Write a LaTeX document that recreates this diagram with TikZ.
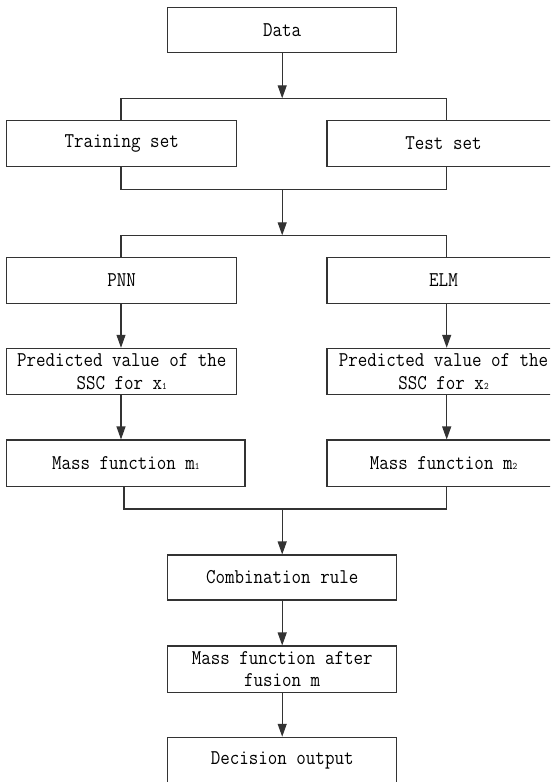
\documentclass[tikz,border=0pt]{standalone}
\usepackage{fontspec}
\setmonofont{Latin Modern Mono}[FakeStretch=0.88]
\usetikzlibrary{arrows.meta}
\newcommand\smallidx[1]{{\fontsize{10}{10}\selectfont #1}}
\begin{document}
\begin{tikzpicture}[x=1pt,y=-1pt,
  box/.style={draw=black!80, line width=1.1pt, rectangle, inner sep=0pt, align=center,
    font=\ttfamily\fontsize{21}{22.7}\selectfont},
  conn/.style={draw=black!80, line width=1.1pt},
  arr/.style={conn, -{Triangle[length=13pt,width=9pt]}}]
\useasboundingbox (0,0) rectangle (550,782);
\clip (0,0) rectangle (550,782);
% nodes
\node[box, minimum width=229pt, minimum height=45.4pt] (data) at (282.2,30) {Data};
\node[box, minimum width=230pt, minimum height=45.6pt] (train) at (121.7,143.5) {Training set};
\node[box, minimum width=233pt, minimum height=45.6pt] (test) at (443.5,143.5) {Test set};
\node[box, minimum width=230pt, minimum height=45.6pt] (pnn) at (121.7,280.5) {PNN};
\node[box, minimum width=233pt, minimum height=45.6pt] (elm) at (443.5,280.5) {ELM};
\node[box, minimum width=230pt, minimum height=46.4pt] (pred1) at (121.7,371.5) {Predicted value of the\\SSC for x\smallidx{1}};
\node[box, minimum width=233pt, minimum height=46.4pt] (pred2) at (443.5,371.5) {Predicted value of the\\SSC for x\smallidx{2}};
\node[box, minimum width=238.3pt, minimum height=46.7pt] (mass1) at (125.85,463.35) {Mass function m\smallidx{1}};
\node[box, minimum width=233pt, minimum height=46.7pt] (mass2) at (443.5,463.35) {Mass function m\smallidx{2}};
\node[box, minimum width=229pt, minimum height=45pt] (comb) at (282.2,577.5) {Combination rule};
\node[box, minimum width=229pt, minimum height=46.3pt] (fuse) at (282.2,669.15) {Mass function after\\fusion m};
\node[box, minimum width=229pt, minimum height=46pt] (dec) at (282.2,760.3) {Decision output};
% junction coordinates
\coordinate (b1) at (282.2,98.3);
\coordinate (b1l) at (121,98.3);
\coordinate (b1r) at (446.7,98.3);
\coordinate (b2) at (282.2,189.5);
\coordinate (b2l) at (121,189.5);
\coordinate (b2r) at (446.7,189.5);
\coordinate (b3) at (282.2,235.3);
\coordinate (b3l) at (121,235.3);
\coordinate (b3r) at (446.7,235.3);
\coordinate (b4) at (282.2,509);
\coordinate (b4l) at (124,509);
\coordinate (b4r) at (446.7,509);
% connectors
\draw[arr] (data.south) -- (b1);
\draw[conn] (b1l |- train.north) -- (b1l) -- (b1r) -- (b1r |- test.north);
\draw[conn] (b2l |- train.south) -- (b2l) -- (b2r) -- (b2r |- test.south);
\draw[arr] (b2) -- (b3);
\draw[conn] (b3l |- pnn.north) -- (b3l) -- (b3r) -- (b3r |- elm.north);
\draw[arr] (b3l |- pnn.south) -- (b3l |- pred1.north);
\draw[arr] (b3r |- elm.south) -- (b3r |- pred2.north);
\draw[arr] (b3l |- pred1.south) -- (b3l |- mass1.north);
\draw[arr] (b3r |- pred2.south) -- (b3r |- mass2.north);
\draw[conn] (b4l |- mass1.south) -- (b4l) -- (b4r) -- (b4r |- mass2.south);
\draw[arr] (b4) -- (comb.north);
\draw[arr] (comb.south) -- (fuse.north);
\draw[arr] (fuse.south) -- (dec.north);
\end{tikzpicture}
\end{document}
